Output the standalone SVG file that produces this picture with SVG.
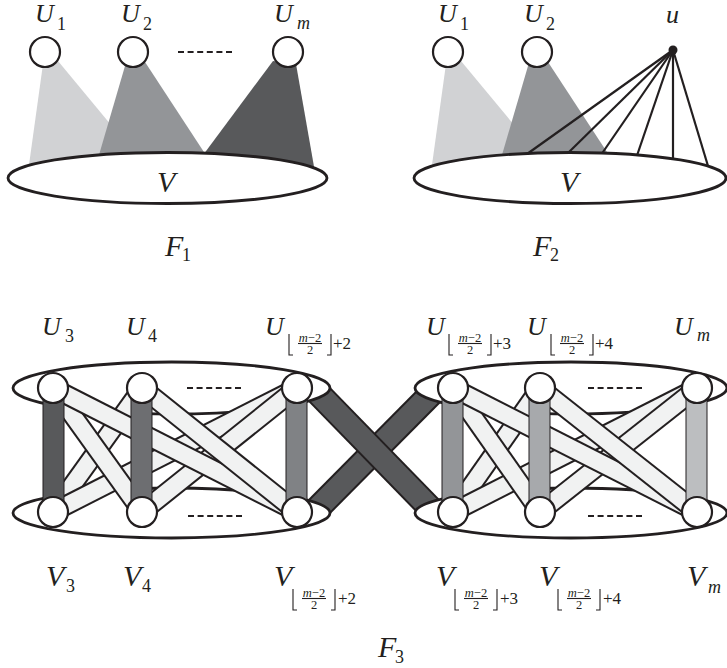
<svg xmlns="http://www.w3.org/2000/svg" width="727" height="668" viewBox="0 0 727 668">
<style>
.ell{fill:#fff;stroke:#231f20;stroke-width:2.8}
.nd{fill:#fff;stroke:#231f20;stroke-width:2.2}
.dash{stroke:#231f20;stroke-width:2.2;stroke-dasharray:6 3.6;fill:none}
.edge{stroke:#231f20;stroke-width:2.2}
.bo{stroke:#231f20;stroke-width:20.5;stroke-linecap:butt}
.bf{stroke:#f1f2f2;stroke-width:16.5;stroke-linecap:butt}
.xo{stroke:#231f20;stroke-width:26;stroke-linecap:butt}
.xf{stroke:#58595b;stroke-width:22;stroke-linecap:butt}
.vb{stroke:#231f20;stroke-width:1}
.it{font-family:"Liberation Serif","Times New Roman",serif;font-style:italic;font-size:26px;fill:#231f20}
.big{font-family:"Liberation Serif","Times New Roman",serif;font-style:italic;font-size:30px;fill:#231f20}
.sb{font-family:"Liberation Serif","Times New Roman",serif;font-size:18px;fill:#231f20}
.si{font-family:"Liberation Serif","Times New Roman",serif;font-style:italic;font-size:18px;fill:#231f20}
.fr{font-family:"Liberation Serif","Times New Roman",serif;font-size:12.5px;fill:#231f20;text-anchor:middle}
.pl{font-family:"Liberation Serif","Times New Roman",serif;font-size:17px;fill:#231f20}
.br{fill:none;stroke:#231f20;stroke-width:1.1}
</style>
<defs>
<g id="floorsub">
<polyline class="br" points="0,1 0,22 4,22"/>
<text class="fr" x="21" y="8.5"><tspan font-style="italic">m</tspan>−2</text>
<line class="br" x1="9" y1="10.5" x2="33" y2="10.5"/>
<text class="fr" x="21" y="21">2</text>
<polyline class="br" points="38,22 42,22 42,1"/>
</g>
</defs>

<!-- F1 -->
<g id="F1">
<g id="F1-edges">
<polygon points="43,64 58,61 150,172 28,172" fill="#d1d2d4"/>
<polygon points="125,66 145,62 217,172 94,172" fill="#939598"/>
<polygon points="273,61 296,64 316,178 186,178" fill="#58595b"/>
</g>
<g id="F1-V"><ellipse class="ell" cx="167.5" cy="178" rx="159.5" ry="25.5"/><text class="big" x="157" y="192">V</text></g>
<g id="F1-U1"><circle class="nd" cx="45" cy="52" r="15"/><text class="it" x="35" y="22">U</text><text class="sb" x="57" y="30">1</text></g>
<g id="F1-U2"><circle class="nd" cx="133" cy="52" r="15"/><text class="it" x="121" y="22">U</text><text class="sb" x="143" y="30">2</text></g>
<g id="F1-Um"><circle class="nd" cx="288" cy="52" r="15"/><text class="it" x="274" y="22">U</text><text class="si" x="297" y="29">m</text></g>
<line class="dash" x1="178" y1="52" x2="234" y2="52"/>
<text class="big" x="165" y="256">F</text><text class="sb" x="182" y="261">1</text>
</g>

<!-- F2 -->
<g id="F2">
<g id="F2-edges">
<polygon points="446,64 461,61 553,172 431,172" fill="#d1d2d4"/>
<polygon points="528,66 548,62 620,172 497,172" fill="#939598"/>
</g>
<g id="F2-V"><ellipse class="ell" cx="570" cy="178" rx="156" ry="25.5"/><text class="big" x="560" y="192">V</text></g>
<g id="F2-u-edges">
<line class="edge" x1="673" y1="50" x2="527" y2="154"/>
<line class="edge" x1="673" y1="50" x2="568" y2="153"/>
<line class="edge" x1="673" y1="50" x2="602" y2="153.5"/>
<line class="edge" x1="673" y1="50" x2="637" y2="155.5"/>
<line class="edge" x1="673" y1="50" x2="673" y2="159"/>
<line class="edge" x1="673" y1="50" x2="708" y2="166"/>
</g>
<g id="F2-U1"><circle class="nd" cx="448" cy="52" r="15"/><text class="it" x="438" y="22">U</text><text class="sb" x="460" y="30">1</text></g>
<g id="F2-U2"><circle class="nd" cx="537" cy="52" r="15"/><text class="it" x="524" y="22">U</text><text class="sb" x="546" y="30">2</text></g>
<g id="F2-u"><circle cx="673" cy="50" r="4.5" fill="#231f20"/><text class="it" x="666" y="23" font-size="28">u</text></g>
<text class="big" x="533" y="256">F</text><text class="sb" x="550" y="261">2</text>
</g>

<!-- F3 -->
<g id="F3">
<g id="F3-cross">
<line class="xo" x1="433" y1="392" x2="314" y2="512"/>
<line class="xf" x1="433" y1="392" x2="314" y2="512"/>
<line class="xo" x1="317" y1="392" x2="433" y2="511"/>
<line class="xf" x1="317" y1="392" x2="433" y2="511"/>
</g>
<g id="F3-ellipses">
<ellipse class="ell" cx="171.5" cy="388" rx="158.5" ry="26"/>
<ellipse class="ell" cx="171.5" cy="513" rx="158.5" ry="25"/>
<ellipse class="ell" cx="571" cy="388" rx="156" ry="26"/>
<ellipse class="ell" cx="571" cy="513" rx="156" ry="25"/>
</g>
<g id="F3-bands-left">
<line class="bo" x1="142" y1="388" x2="53" y2="512"/><line class="bf" x1="142" y1="388" x2="53" y2="512"/>
<line class="bo" x1="297" y1="388" x2="53" y2="512"/><line class="bf" x1="297" y1="388" x2="53" y2="512"/>
<line class="bo" x1="297" y1="388" x2="142" y2="512"/><line class="bf" x1="297" y1="388" x2="142" y2="512"/>
<line class="bo" x1="53" y1="388" x2="142" y2="512"/><line class="bf" x1="53" y1="388" x2="142" y2="512"/>
<line class="bo" x1="53" y1="388" x2="297" y2="512"/><line class="bf" x1="53" y1="388" x2="297" y2="512"/>
<line class="bo" x1="142" y1="388" x2="297" y2="512"/><line class="bf" x1="142" y1="388" x2="297" y2="512"/>
</g>
<g id="F3-bands-right">
<line class="bo" x1="540" y1="388" x2="453" y2="512"/><line class="bf" x1="540" y1="388" x2="453" y2="512"/>
<line class="bo" x1="697" y1="388" x2="453" y2="512"/><line class="bf" x1="697" y1="388" x2="453" y2="512"/>
<line class="bo" x1="697" y1="388" x2="540" y2="512"/><line class="bf" x1="697" y1="388" x2="540" y2="512"/>
<line class="bo" x1="453" y1="388" x2="540" y2="512"/><line class="bf" x1="453" y1="388" x2="540" y2="512"/>
<line class="bo" x1="453" y1="388" x2="697" y2="512"/><line class="bf" x1="453" y1="388" x2="697" y2="512"/>
<line class="bo" x1="540" y1="388" x2="697" y2="512"/><line class="bf" x1="540" y1="388" x2="697" y2="512"/>
</g>
<g id="F3-bars">
<rect class="vb" x="43" y="388" width="21" height="124" fill="#58595b"/>
<rect class="vb" x="131" y="388" width="21" height="124" fill="#6d6e71"/>
<rect class="vb" x="286" y="388" width="21" height="124" fill="#808285"/>
<rect class="vb" x="442" y="388" width="21" height="124" fill="#939598"/>
<rect class="vb" x="529" y="388" width="21" height="124" fill="#a7a9ac"/>
<rect class="vb" x="686" y="388" width="21" height="124" fill="#bcbec0"/>
</g>
<line class="dash" x1="187" y1="388" x2="242" y2="388"/>
<line class="dash" x1="188" y1="516" x2="243" y2="516"/>
<line class="dash" x1="588" y1="388" x2="643" y2="388"/>
<line class="dash" x1="588" y1="516" x2="643" y2="516"/>

<g id="U3"><circle class="nd" cx="53" cy="388" r="15"/><text class="it" x="42" y="335">U</text><text class="sb" x="65" y="342">3</text></g>
<g id="U4"><circle class="nd" cx="142" cy="388" r="15"/><text class="it" x="126" y="335">U</text><text class="sb" x="148" y="342">4</text></g>
<g id="Uk2"><circle class="nd" cx="297" cy="388" r="15"/><text class="it" x="265" y="335">U</text><use href="#floorsub" x="289" y="333"/><text class="pl" x="333" y="349">+2</text></g>
<g id="Uk3"><circle class="nd" cx="453" cy="388" r="15"/><text class="it" x="426" y="335">U</text><use href="#floorsub" x="449" y="333"/><text class="pl" x="493" y="349">+3</text></g>
<g id="Uk4"><circle class="nd" cx="540" cy="388" r="15"/><text class="it" x="527" y="335">U</text><use href="#floorsub" x="551" y="333"/><text class="pl" x="595" y="349">+4</text></g>
<g id="Um3"><circle class="nd" cx="697" cy="388" r="15"/><text class="it" x="674" y="335">U</text><text class="si" x="697" y="341">m</text></g>

<g id="V3"><circle class="nd" cx="53" cy="512" r="15"/><text class="big" x="46" y="586">V</text><text class="sb" x="66" y="592">3</text></g>
<g id="V4"><circle class="nd" cx="142" cy="512" r="15"/><text class="big" x="123" y="586">V</text><text class="sb" x="142" y="592">4</text></g>
<g id="Vk2"><circle class="nd" cx="297" cy="512" r="15"/><text class="big" x="274" y="586">V</text><use href="#floorsub" x="293" y="588"/><text class="pl" x="338" y="604">+2</text></g>
<g id="Vk3"><circle class="nd" cx="453" cy="512" r="15"/><text class="big" x="436" y="586">V</text><use href="#floorsub" x="455" y="588"/><text class="pl" x="500" y="604">+3</text></g>
<g id="Vk4"><circle class="nd" cx="540" cy="512" r="15"/><text class="big" x="539" y="586">V</text><use href="#floorsub" x="558" y="588"/><text class="pl" x="603" y="604">+4</text></g>
<g id="Vm3"><circle class="nd" cx="697" cy="512" r="15"/><text class="big" x="687" y="586">V</text><text class="si" x="708" y="593">m</text></g>

<text class="big" x="378" y="657">F</text><text class="sb" x="395" y="663">3</text>
</g>
</svg>
